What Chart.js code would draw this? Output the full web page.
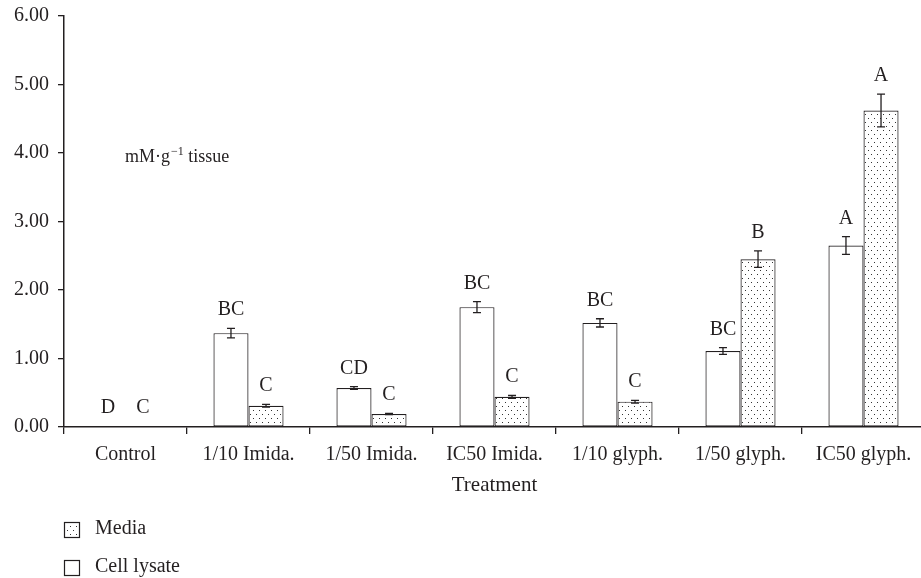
<!DOCTYPE html>
<html>
<head>
<meta charset="utf-8">
<script src="https://cdn.jsdelivr.net/npm/chart.js@4"></script>
<style>
  body { margin: 0; background: #fff; }
  #wrap { width: 921px; height: 578px; overflow: hidden; }
</style>
</head>
<body>
<div id="wrap"><canvas id="myChart" width="930" height="578"></canvas></div>
<script>
const ctx = document.getElementById("myChart").getContext("2d");

let treatments = ["Control", "1/10 Imida.", "1/50 Imida.", "IC50 Imida.", "1/10 glyph.", "1/50 glyph.", "IC50 glyph."];
let lysateValues = [0.01, 1.37, 0.57, 1.75, 1.52, 1.11, 2.65];
let lysateErrors = [0, 0.07, 0.02, 0.08, 0.06, 0.05, 0.13];
let lysateLetters = ["D", "BC", "CD", "BC", "BC", "BC", "A"];
let mediaValues = [0.01, 0.31, 0.19, 0.44, 0.37, 2.45, 4.62];
let mediaErrors = [0, 0.02, 0.01, 0.02, 0.02, 0.12, 0.24];
let mediaLetters = ["C", "C", "C", "C", "C", "B", "A"];
let yTicks = [0, 1, 2, 3, 4, 5, 6];

const ink = "#231f20";
const serif = "'Liberation Serif', 'Times New Roman', serif";

// dotted fill used by the Media bars
function makeDots() {
    let c = document.createElement("canvas");
    c.width = 6;
    c.height = 8;
    let p = c.getContext("2d");
    p.fillStyle = "#fff";
    p.fillRect(0, 0, 6, 8);
    p.fillStyle = "#333";
    p.fillRect(1, 2, 1, 1);
    p.fillRect(4, 6, 1, 1);
    return ctx.createPattern(c, "repeat");
}
const dots = makeDots();

const extras = {
    id: "extras",
    afterDatasetsDraw(chart) {
        const c = chart.ctx;
        const y = chart.scales.y;
        const sets = [
            { vals: lysateValues, errs: lysateErrors, letters: lysateLetters },
            { vals: mediaValues, errs: mediaErrors, letters: mediaLetters },
        ];
        c.save();
        c.strokeStyle = ink;
        c.fillStyle = ink;
        c.lineWidth = 1.3;
        c.font = "20px " + serif;
        c.textAlign = "center";
        c.textBaseline = "alphabetic";
        for (let d = 0; d < sets.length; d++) {
            let meta = chart.getDatasetMeta(d);
            for (let i = 0; i < meta.data.length; i++) {
                let x = meta.data[i].x;
                let v = sets[d].vals[i];
                let e = sets[d].errs[i];
                let top = y.getPixelForValue(v + e);
                if (e > 0) {
                    let bot = y.getPixelForValue(v - e);
                    c.beginPath();
                    c.moveTo(x, top);
                    c.lineTo(x, bot);
                    c.moveTo(x - 4, top);
                    c.lineTo(x + 4, top);
                    c.moveTo(x - 4, bot);
                    c.lineTo(x + 4, bot);
                    c.stroke();
                }
                c.fillText(sets[d].letters[i], x, top - 13);
            }
        }
        c.restore();
    },
    afterDraw(chart) {
        const c = chart.ctx;
        const area = chart.chartArea;
        c.save();
        c.fillStyle = ink;
        c.strokeStyle = ink;
        c.textBaseline = "alphabetic";

        // unit note
        c.textAlign = "left";
        c.font = "18px " + serif;
        let x = 125;
        c.fillText("mM\u00b7g", x, 162);
        x += c.measureText("mM\u00b7g").width + 1;
        c.font = "12px " + serif;
        c.fillText("\u22121", x, 155);
        x += c.measureText("\u22121").width;
        c.font = "18px " + serif;
        c.fillText(" tissue", x, 162);

        // axis title
        c.textAlign = "center";
        c.textBaseline = "middle";
        c.font = "21px " + serif;
        c.fillText("Treatment", (area.left + area.right) / 2, 485);

        // legend
        c.textAlign = "left";
        c.font = "20px " + serif;
        c.lineWidth = 1.2;
        c.fillStyle = dots;
        c.fillRect(64, 522, 15, 15);
        c.strokeRect(64.5, 522.5, 15, 15);
        c.fillStyle = "#fff";
        c.fillRect(64, 560, 15, 15);
        c.strokeRect(64.5, 560.5, 15, 15);
        c.fillStyle = ink;
        c.fillText("Media", 95, 529);
        c.fillText("Cell lysate", 95, 567);
        c.restore();
    },
};

new Chart(ctx, {
    type: "bar",
    data: {
        labels: treatments,
        datasets: [{
                label: "Cell lysate",
                data: lysateValues,
                backgroundColor: "#ffffff",
                borderColor: ink,
                borderWidth: 1.2,
                borderSkipped: false,
                categoryPercentage: 0.57,
                barPercentage: 1.0,
            },
            {
                label: "Media",
                data: mediaValues,
                backgroundColor: dots,
                borderColor: ink,
                borderWidth: 1.2,
                borderSkipped: false,
                categoryPercentage: 0.57,
                barPercentage: 1.0,
            },
        ],
    },
    options: {
        responsive: false,
        animation: false,
        layout: {
            padding: { top: 16, right: 5, bottom: 0, left: 0 },
        },
        plugins: {
            legend: { display: false },
            tooltip: { enabled: false },
        },
        scales: {
            x: {
                offset: true,
                afterFit: (scale) => { scale.height = 151; },
                grid: {
                    offset: true,
                    drawOnChartArea: false,
                    drawTicks: true,
                    tickLength: 7,
                    color: ink,
                    lineWidth: 1.3,
                },
                border: { display: true, color: ink, width: 1.5 },
                ticks: {
                    color: ink,
                    font: { family: serif, size: 20 },
                    padding: 9,
                    maxRotation: 0,
                    autoSkip: false,
                },
            },
            y: {
                min: 0,
                max: 6,
                afterFit: (scale) => {
                    scale.width = 64;
                    scale.paddingTop = 0;
                    scale.paddingBottom = 0;
                },
                afterBuildTicks: (scale) => {
                    scale.ticks = yTicks.map((v) => ({ value: v }));
                },
                grid: {
                    drawOnChartArea: false,
                    drawTicks: true,
                    tickLength: 6,
                    color: ink,
                    lineWidth: 1.3,
                },
                border: { display: true, color: ink, width: 1.5 },
                ticks: {
                    color: ink,
                    font: { family: serif, size: 20 },
                    padding: 9,
                    callback: (v) => Number(v).toFixed(2),
                },
            },
        },
    },
    plugins: [extras],
});
</script>
</body>
</html>
